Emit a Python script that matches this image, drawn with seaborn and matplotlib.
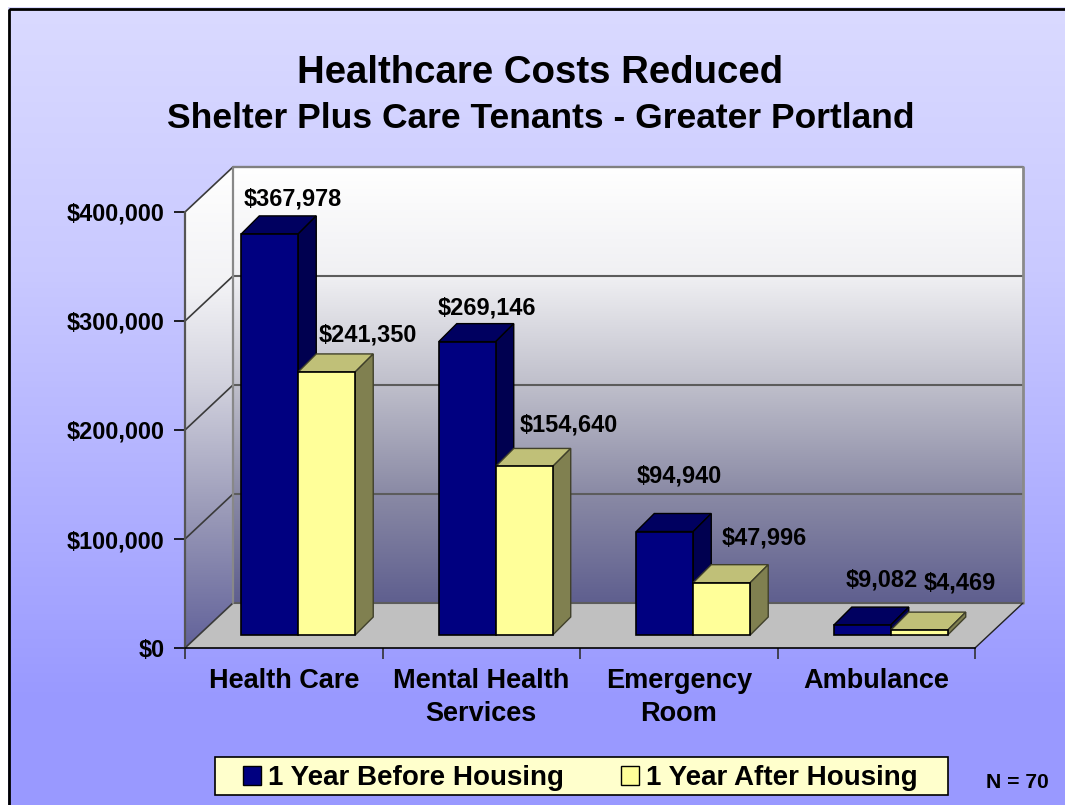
import numpy as np
import pandas as pd
import seaborn as sns
import matplotlib.pyplot as plt
from matplotlib.colors import LinearSegmentedColormap
from matplotlib.patches import Patch, Polygon, Rectangle
from matplotlib.transforms import Affine2D, IdentityTransform

services = ["Health Care", "Mental Health\nServices", "Emergency\nRoom", "Ambulance"]
before = [367978, 269146, 94940, 9082]
after = [241350, 154640, 47996, 4469]
periods = ["1 Year Before Housing", "1 Year After Housing"]
y_ticks = [0, 100000, 200000, 300000, 400000]
y_labels = ["$0", "$100,000", "$200,000", "$300,000", "$400,000"]

data = pd.DataFrame({
    "service": services * 2,
    "cost": before + after,
    "period": [periods[0]] * 4 + [periods[1]] * 4,
})

W, H = 1065, 805

sns.set_style("white")
plt.rcParams["font.family"] = ["Liberation Sans", "DejaVu Sans"]
plt.rcParams["font.weight"] = "bold"
plt.rcParams["text.color"] = "black"

fig = plt.figure(figsize=(W / 100, H / 100), dpi=100, facecolor="white")

# page background, pixel coordinates
bg = fig.add_axes([0, 0, 1, 1], zorder=0)
bg.set_xlim(0, W)
bg.set_ylim(H, 0)
bg.axis("off")

def gradient(axes, stops, extent, clip=None):
    cmap = LinearSegmentedColormap.from_list("g", stops)
    im = axes.imshow(np.linspace(0, 1, 256).reshape(-1, 1), cmap=cmap, aspect="auto",
                     extent=extent, zorder=1, interpolation="bilinear")
    if clip is not None:
        im.set_clip_path(clip)
    return im

page_stops = [(0, "#dadaff"), (0.33, "#c9c9ff"), (0.74, "#a5a5ff"), (0.87, "#9999ff"), (1, "#9999ff")]
gradient(bg, page_stops, (8, W, H, 8))
bg.add_patch(Rectangle((9, 9), W, H, fill=False, edgecolor="black", linewidth=2, zorder=2))
bg.add_patch(Rectangle((215, 757), 733, 38, facecolor="#ffffcc", edgecolor="black", linewidth=1.2, zorder=2))

# chart front plane
ax = fig.add_axes([185 / W, (H - 648) / H, 790 / W, 436 / H], zorder=1)
ax.patch.set_alpha(0)

sns.barplot(data=data, x="service", y="cost", hue="period", hue_order=periods,
            palette=["#000080", "#ffff99"], saturation=1, width=0.577, gap=0,
            edgecolor="black", linewidth=1.2, legend=False, ax=ax)
ax.set_xlim(-0.5, 3.5)
ax.set_ylim(0, 400000)
ax.set_xlabel("")
ax.set_ylabel("")

# depth of the box and of the bars, pixels
wall_dx, wall_dy = 48, 45
shift_x, shift_y = 14.5, 13
bar_d = 18

def px(x, y):
    return ax.transData.transform((x, y))

def face(points, color, z, edge="black", lw=1.0):
    ax.add_patch(Polygon(points, closed=True, facecolor=color, edgecolor=edge, linewidth=lw,
                         transform=IdentityTransform(), clip_on=False, zorder=z))

# walls and floor
x0, y0 = px(-0.5, 0)
x1, y1 = px(3.5, 400000)
back = Polygon([(x0 + wall_dx, y0 + wall_dy), (x1 + wall_dx, y0 + wall_dy),
                (x1 + wall_dx, y1 + wall_dy), (x0 + wall_dx, y1 + wall_dy)],
               transform=IdentityTransform(), facecolor="none", edgecolor="none")
side = Polygon([(x0, y0), (x0 + wall_dx, y0 + wall_dy),
                (x0 + wall_dx, y1 + wall_dy), (x0, y1)],
               transform=IdentityTransform(), facecolor="none", edgecolor="none")
fig.add_artist(back)
fig.add_artist(side)
back_stops = [(0, "#ffffff"), (0.25, "#f0f0f3"), (0.5, "#bfbfcb"), (0.75, "#8a8aa5"), (1, "#5f5f8f")]
side_stops = [(0, "#ffffff"), (0.25, "#f2f2f5"), (0.45, "#d2d2de"), (0.72, "#9a9ab8"), (1, "#62629a")]
gradient(bg, back_stops, (x0 + wall_dx, x1 + wall_dx, H - y0 - wall_dy, H - y1 - wall_dy), back)
gradient(bg, side_stops, (x0, x0 + wall_dx, H - y0, H - y1 - wall_dy), side)
bg.set_xlim(0, W)
bg.set_ylim(H, 0)

tr = IdentityTransform()
face([(x0, y0), (x1, y0), (x1 + wall_dx, y0 + wall_dy), (x0 + wall_dx, y0 + wall_dy)], "#c0c0c0", 1.5, "none")
for v in y_ticks:
    _, yy = px(0, v)
    ax.plot([x0 + wall_dx, x1 + wall_dx], [yy + wall_dy, yy + wall_dy], color="#5c5c5c", lw=1.5,
            transform=tr, clip_on=False, zorder=1.6)
    ax.plot([x0, x0 + wall_dx], [yy, yy + wall_dy], color="#3a3a3a", lw=1.2,
            transform=tr, clip_on=False, zorder=1.6)
ax.plot([x0 + wall_dx, x0 + wall_dx], [y0 + wall_dy, y1 + wall_dy], color="#888888", lw=1.6,
        transform=tr, clip_on=False, zorder=1.7)
ax.plot([x0 + wall_dx, x1 + wall_dx], [y1 + wall_dy, y1 + wall_dy], color="#808080", lw=1.6,
        transform=tr, clip_on=False, zorder=1.7)
ax.plot([x0, x0], [y0, y1], color="#555555", lw=1.6, transform=tr, clip_on=False, zorder=1.7)
ax.plot([x1 + wall_dx, x1 + wall_dx], [y0 + wall_dy, y1 + wall_dy], color="#8a8a8a", lw=2,
        transform=tr, clip_on=False, zorder=1.7)
ax.plot([x1, x1 + wall_dx], [y0, y0 + wall_dy], color="#222222", lw=1,
        transform=tr, clip_on=False, zorder=1.7)

# 3D faces of the bars
top_colors = ["#000060", "#c0c078"]
side_colors = ["#000050", "#808050"]
edges = ["black", "#40402a"]
label_offsets = [
    [(23.5, 35), (20, 34), (15.5, 56), (20, 45)],
    [(41.5, 37), (45, 41), (43.5, 45), (41, 47)],
]
shift = Affine2D().translate(shift_x, shift_y)
for i, container in enumerate(ax.containers):
    z = 3 + 2 * i
    for j, bar in enumerate(container):
        left, w, v = bar.get_x(), bar.get_width(), bar.get_height()
        a = px(left, 0) + (shift_x, shift_y)
        b = px(left + w, v) + (shift_x, shift_y)
        face([(a[0], b[1]), (b[0], b[1]), (b[0] + bar_d, b[1] + bar_d), (a[0] + bar_d, b[1] + bar_d)],
             top_colors[i], z, edges[i])
        face([(b[0], a[1]), (b[0] + bar_d, a[1] + bar_d), (b[0] + bar_d, b[1] + bar_d), (b[0], b[1])],
             side_colors[i], z, edges[i])
        bar.set_transform(ax.transData + shift)
        bar.set_clip_on(False)
        bar.set_zorder(z + 1)
        ox, oy = label_offsets[i][j]
        ax.annotate(f"${v:,.0f}", xy=(left + w / 2, v), xytext=(shift_x + ox - 0.5, shift_y + oy),
                    textcoords="offset pixels", ha="center", va="center", fontsize=16.9,
                    fontweight="bold", color="black", zorder=10, annotation_clip=False)

# axes decoration
ax.set_yticks(y_ticks, y_labels)
ax.set_xticks(range(4), services)
ax.set_xticks(np.arange(-0.5, 4, 1), minor=True)
ax.tick_params(axis="y", length=8, width=1.2, color="black", pad=6.5, labelsize=16.9, left=True,
               labelcolor="black")
ax.tick_params(axis="x", which="major", length=0, pad=14.5, labelsize=19.5, labelcolor="black")
ax.tick_params(axis="x", which="minor", length=8, width=1.2, color="#333333", bottom=True)
for lab in ax.get_xticklabels() + ax.get_yticklabels():
    lab.set_fontweight("bold")
for lab in ax.get_xticklabels():
    lab.set_linespacing(1.35)
sns.despine(ax=ax, left=True, top=True, right=True)
ax.spines["bottom"].set_color("black")
ax.spines["bottom"].set_linewidth(1.2)
ax.spines["bottom"].set_zorder(2)

# titles and notes
fig.text(540 / W, 1 - 73 / H, "Healthcare Costs Reduced", ha="center", va="center",
         fontsize=27.6, fontweight="bold", color="black")
fig.text(540.5 / W, 1 - 118 / H, "Shelter Plus Care Tenants - Greater Portland", ha="center", va="center",
         fontsize=25.5, fontweight="bold", color="black")
fig.text(1017 / W, 1 - 782 / H, "N = 70", ha="center", va="center", fontsize=15.2, fontweight="bold", color="black")

# legend
handles = [Patch(facecolor="#000080", edgecolor="black", label=periods[0]),
           Patch(facecolor="#ffff99", edgecolor="black", label=periods[1])]
fig.legend(handles=handles, loc="center", bbox_to_anchor=(580 / W, 1 - 778 / H), ncol=2,
           prop={"size": 20, "weight": "bold"}, frameon=False, handlelength=0.65, handleheight=0.65,
           handletextpad=0.25, columnspacing=2.05, borderpad=0, borderaxespad=0)

fig.savefig("out.png", dpi=100)
